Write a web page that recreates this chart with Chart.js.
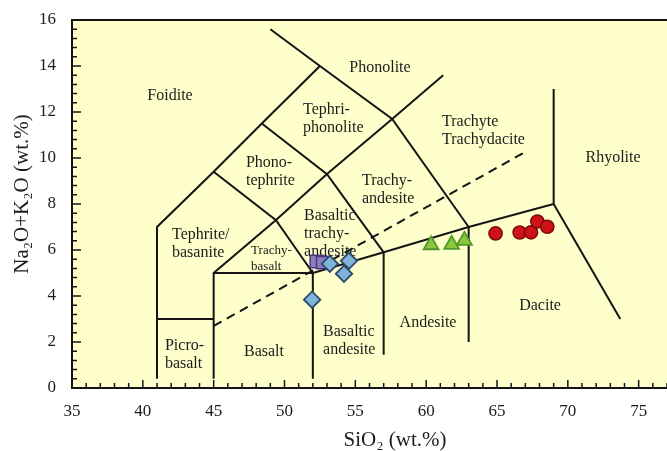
<!DOCTYPE html>
<html>
<head>
<meta charset="utf-8">
<script src="https://cdn.jsdelivr.net/npm/chart.js@4/dist/chart.umd.min.js"></script>
<style>
  html, body { margin: 0; padding: 0; background: #ffffff; overflow: hidden; }
  #wrap { width: 667px; height: 451px; }
</style>
</head>
<body>
<div id="wrap"><canvas id="tas" width="667" height="451"></canvas></div>
<script>
// Sample compositions: SiO2 (wt.%) and total alkalis Na2O+K2O (wt.%)
const squareSiO2 = [52.25, 52.7];
const squareAlkali = [5.5, 5.45];
const diamondSiO2 = [53.2, 54.55, 54.2, 51.95];
const diamondAlkali = [5.4, 5.53, 4.97, 3.84];
const triangleSiO2 = [60.35, 61.8, 62.7];
const triangleAlkali = [6.22, 6.24, 6.41];
const circleSiO2 = [64.9, 66.6, 67.4, 67.85, 68.55];
const circleAlkali = [6.72, 6.76, 6.77, 7.24, 7.01];

// Tick labels
const xTickLabels = [35, 40, 45, 50, 55, 60, 65, 70, 75];
const yTickLabels = [0, 2, 4, 6, 8, 10, 12, 14, 16];

// TAS classification field boundaries (SiO2, Na2O+K2O)
const boundaryA = [[49, 15.6], [52.5, 14], [57.6, 11.7], [63, 7], [63, 2]];
const boundaryB = [[41, 0.4], [41, 7], [45, 9.4], [48.4, 11.5], [52.5, 14]];
const boundaryC = [[45, 0.4], [45, 5], [49.4, 7.3], [53, 9.3], [57.6, 11.7], [61.2, 13.6]];
const boundaryD = [[52, 0.4], [52, 5], [57, 5.9], [63, 7], [69, 8], [69, 13]];
const boundaryE = [[69, 8], [73.7, 3]];
const boundaryF = [[41, 3], [45, 3]];
const boundaryG = [[45, 5], [52, 5]];
const boundaryH = [[45, 9.4], [49.4, 7.3], [52, 5]];
const boundaryI = [[48.4, 11.5], [53, 9.3], [57, 5.9], [57, 1.45]];
const alkalineDivide = [[45, 2.7], [67.1, 10.3]];

// Rock field names
const fieldNames = [
  ['Foidite'], ['Phonolite'], ['Tephri-', 'phonolite'], ['Phono-', 'tephrite'],
  ['Trachyte', 'Trachydacite'], ['Rhyolite'], ['Trachy-', 'andesite'],
  ['Basaltic', 'trachy-', 'andesite'], ['Tephrite/', 'basanite'], ['Trachy-', 'basalt'],
  ['Picro-', 'basalt'], ['Basalt'], ['Basaltic', 'andesite'], ['Andesite'], ['Dacite']
];
// Where each field name block is centred (data units), its alignment and font size
const fieldNamePlacement = [
  { x: 41.92, y: 12.72, align: 'center', size: 16 },
  { x: 56.74, y: 13.93, align: 'center', size: 16 },
  { x: 51.31, y: 11.7, align: 'left', size: 16 },
  { x: 47.28, y: 9.39, align: 'left', size: 16 },
  { x: 61.12, y: 11.2, align: 'left', size: 16 },
  { x: 73.19, y: 10.0, align: 'center', size: 16 },
  { x: 55.47, y: 8.63, align: 'left', size: 16 },
  { x: 51.38, y: 6.72, align: 'left', size: 16 },
  { x: 42.06, y: 6.26, align: 'left', size: 16 },
  { x: 47.64, y: 5.61, align: 'left', size: 13 },
  { x: 41.56, y: 1.43, align: 'left', size: 16 },
  { x: 48.55, y: 1.57, align: 'center', size: 16 },
  { x: 52.72, y: 2.04, align: 'left', size: 16 },
  { x: 60.13, y: 2.83, align: 'center', size: 16 },
  { x: 68.04, y: 3.57, align: 'center', size: 16 }
];

const SERIF = '"Liberation Serif", "Times New Roman", serif';
const INK = '#141414';

const toPoints = (xs, ys) => xs.map((v, i) => ({ x: v, y: ys[i] }));
const toXY = pairs => pairs.map(p => ({ x: p[0], y: p[1] }));

const boundaryStyle = {
  type: 'scatter', showLine: true, pointRadius: 0, pointHoverRadius: 0,
  borderColor: INK, borderWidth: 2, fill: false, order: 10
};
const boundaries = [boundaryA, boundaryB, boundaryC, boundaryD, boundaryE,
  boundaryF, boundaryG, boundaryH, boundaryI].map(b => Object.assign({ data: toXY(b) }, boundaryStyle));

const datasets = [
  ...boundaries,
  Object.assign({ data: toXY(alkalineDivide), borderDash: [9, 6] }, boundaryStyle),
  {
    type: 'scatter', data: toPoints(squareSiO2, squareAlkali), pointStyle: 'rect',
    pointRadius: 8.8, backgroundColor: '#8f7bbf', borderColor: '#4a3a78', borderWidth: 1.5, order: 4
  },
  {
    type: 'scatter', data: toPoints(diamondSiO2, diamondAlkali), pointStyle: 'rectRot',
    pointRadius: 8.2, backgroundColor: '#80b3da', borderColor: '#2c4a66', borderWidth: 1.8, order: 3
  },
  {
    type: 'scatter', data: toPoints(triangleSiO2, triangleAlkali), pointStyle: 'triangle',
    pointRadius: 8.6, backgroundColor: '#8cc63f', borderColor: '#4f9a2c', borderWidth: 1.8, order: 2
  },
  {
    type: 'scatter', data: toPoints(circleSiO2, circleAlkali), pointStyle: 'circle',
    pointRadius: 6.6, backgroundColor: '#d01218', borderColor: '#7a0b0b', borderWidth: 1.5, order: 1
  }
];

// Pale plot background, top frame, inward major/minor ticks, field names and axis titles
const tasDecor = {
  id: 'tasDecor',
  beforeDraw(chart) {
    const { ctx, chartArea: a } = chart;
    ctx.save();
    ctx.fillStyle = '#ffffcc';
    ctx.fillRect(a.left, a.top, a.right - a.left, a.bottom - a.top);
    ctx.restore();
  },
  beforeDatasetsDraw(chart) {
    const { ctx, scales: { x, y } } = chart;
    ctx.save();
    ctx.fillStyle = '#1c1c1c';
    ctx.textBaseline = 'middle';
    fieldNames.forEach((lines, i) => {
      const p = fieldNamePlacement[i];
      ctx.font = p.size + 'px ' + SERIF;
      ctx.textAlign = p.align;
      const lh = p.size === 16 ? 18 : 16;
      const px = x.getPixelForValue(p.x);
      const py0 = y.getPixelForValue(p.y) - (lines.length - 1) * lh / 2;
      lines.forEach((t, k) => ctx.fillText(t, px, py0 + k * lh));
    });
    ctx.restore();
  },
  afterDraw(chart) {
    const { ctx, chartArea: a, scales: { x, y } } = chart;
    ctx.save();
    ctx.strokeStyle = INK;
    ctx.lineWidth = 2;
    ctx.beginPath();
    ctx.moveTo(a.left - 1, a.top);
    ctx.lineTo(a.right, a.top);
    ctx.stroke();

    ctx.lineWidth = 1.5;
    ctx.beginPath();
    for (let v = x.min; v <= x.max; v += 1) {
      const px = x.getPixelForValue(v);
      const len = v % 5 === 0 ? 8 : 5;
      ctx.moveTo(px, a.bottom);
      ctx.lineTo(px, a.bottom - len);
    }
    for (let i = 0; i <= 40; i++) {
      const py = y.getPixelForValue(i * 0.4);
      const len = i % 5 === 0 ? 9 : 5;
      ctx.moveTo(a.left, py);
      ctx.lineTo(a.left + len, py);
    }
    ctx.stroke();

    ctx.fillStyle = '#1c1c1c';
    ctx.font = '21px ' + SERIF;
    ctx.textAlign = 'center';
    ctx.textBaseline = 'middle';
    ctx.fillText('SiO\u2082 (wt.%)', 395, 440);
    ctx.translate(22, 194);
    ctx.rotate(-Math.PI / 2);
    ctx.fillText('Na\u2082O+K\u2082O (wt.%)', 0, 0);
    ctx.restore();
  }
};

new Chart(document.getElementById('tas'), {
  data: { datasets },
  options: {
    responsive: false,
    animation: false,
    events: [],
    layout: { autoPadding: false, padding: { top: 20, right: 0, bottom: 0, left: 0 } },
    plugins: { legend: { display: false }, tooltip: { enabled: false } },
    scales: {
      x: {
        type: 'linear', min: 35, max: 77,
        afterFit: s => { s.height = 63; s.paddingLeft = 0; s.paddingRight = 0; },
        afterBuildTicks: s => { s.ticks = xTickLabels.map(v => ({ value: v })); },
        ticks: { stepSize: 5, includeBounds: false, padding: 13, color: '#1c1c1c',
                 font: { family: SERIF, size: 17 }, maxRotation: 0 },
        grid: { display: false, drawTicks: false },
        border: { display: true, color: INK, width: 2 }
      },
      y: {
        type: 'linear', min: 0, max: 16,
        afterFit: s => { s.width = 72; s.paddingTop = 0; s.paddingBottom = 0; },
        afterBuildTicks: s => { s.ticks = yTickLabels.map(v => ({ value: v })); },
        ticks: { stepSize: 2, padding: 16, color: '#1c1c1c',
                 font: { family: SERIF, size: 17 } },
        grid: { display: false, drawTicks: false },
        border: { display: true, color: INK, width: 2 }
      }
    }
  },
  plugins: [tasDecor]
});
</script>
</body>
</html>
